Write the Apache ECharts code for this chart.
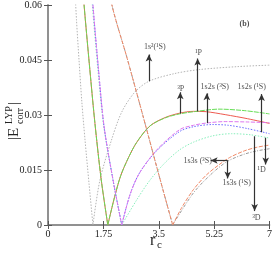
<!DOCTYPE html>
<html><head><meta charset="utf-8">
<script src="https://cdn.jsdelivr.net/npm/echarts@6/dist/echarts.min.js"></script>
<style>html,body{margin:0;padding:0;background:#fff}#c{width:275px;height:253px}</style>
</head><body><div id="c"></div>
<script>
// ---- data (r_c, |E_corr^LYP|) ----
const xTicks = [0, 1.75, 3.5, 5.25, 7];
const yTicks = [0, 0.015, 0.03, 0.045, 0.06];
const s1s2 = [[0.84,0.066],[0.9,0.056],[0.98,0.045],[1.07,0.0335],[1.17,0.0232],[1.3,0.011],[1.42,0],[1.64,0.0122],[2.0,0.023],[2.33,0.0308],[2.74,0.0362],[3.19,0.0392],[4.0,0.0413],[4.8,0.0424],[6.0,0.0432],[7.0,0.0436]];
const s3P = [[1.1,0.065],[1.14,0.06],[1.3,0.0445],[1.48,0.028],[1.68,0.0125],[1.89,0],[2.1,0.0075],[2.3,0.0135],[2.55,0.0185],[2.8,0.0225],[3.22,0.027],[3.7,0.0292],[4.16,0.0303],[4.7,0.031],[5.4,0.0316],[6.2,0.0312],[7,0.0303]];
const s1P = [[1.1,0.065],[1.14,0.06],[1.3,0.0445],[1.48,0.028],[1.68,0.0125],[1.89,0],[2.1,0.0075],[2.3,0.0135],[2.55,0.0185],[2.8,0.0225],[3.22,0.027],[3.7,0.0293],[4.16,0.0305],[4.6,0.031],[5.0,0.0309],[5.6,0.0301],[6.3,0.029],[7,0.0277]];
const s1s2s3S = [[1.38,0.066],[1.42,0.06],[1.6,0.042],[1.77,0.027],[2.05,0.0125],[2.33,0],[2.6,0.0085],[2.9,0.0143],[3.44,0.0205],[4.16,0.026],[4.6,0.0272],[5.0,0.0278],[5.6,0.0282],[6.3,0.0281],[7,0.0279]];
const s1s2s1S = [[1.38,0.066],[1.42,0.06],[1.6,0.042],[1.77,0.027],[2.05,0.0125],[2.33,0],[2.6,0.0085],[2.9,0.0143],[3.44,0.0203],[4.16,0.0255],[4.6,0.0268],[5.2,0.0274],[5.7,0.0272],[6.3,0.0263],[7,0.0249]];
const sCyan = [[1.36,0.066],[1.4,0.06],[1.58,0.042],[1.76,0.027],[2.05,0.0125],[2.33,0],[2.8,0.0068],[3.22,0.0122],[3.7,0.017],[4.16,0.0205],[4.6,0.0226],[5.2,0.0243],[5.8,0.0249],[6.4,0.0246],[7,0.0237]];
const s3D = [[1.98,0.065],[2.02,0.06],[2.5,0.0455],[3.0,0.0298],[3.5,0.0138],[3.94,0],[4.23,0.0048],[4.6,0.0097],[5.0,0.0136],[5.4,0.0164],[5.74,0.0184],[6.2,0.0202],[6.6,0.0212],[7,0.0218]];
const s1D = [[1.98,0.065],[2.02,0.06],[2.5,0.0455],[3.0,0.0298],[3.5,0.0138],[3.94,0],[4.6,0.0088],[5.2,0.0142],[5.68,0.0174],[6.2,0.0193],[6.6,0.0202],[7,0.0208]];
// annotations: label texts, label anchor, arrow start/end
const annTexts = ['1s²(¹S)','¹P','³P','1s2s (³S)','1s2s (¹S)','1s3s (³S)','1s3s (¹S)','³D','¹D'];
const annLabelPos = [[3.375,0.0486],[4.76,0.047],[4.2,0.037],[5.27,0.0376],[6.44,0.0376],[4.73,0.0176],[5.96,0.0114],[6.59,0.0019],[6.75,0.0151]];
const arrowFrom = [[3.19,0.0392],[4.18,0.0304],[4.73,0.031],[5.02,0.0278],[6.75,0.0253],[5.68,0.0176],[5.68,0.0176],[6.53,0.0242],[6.88,0.0238]];
const arrowTo = [[3.19,0.0465],[4.18,0.0362],[4.73,0.0454],[5.02,0.0359],[6.75,0.0357],[5.14,0.0176],[5.68,0.0127],[6.53,0.0038],[6.88,0.0165]];
const panelTag = [6.21,0.0549];

const serif = 'Liberation Serif';
const chart = echarts.init(document.getElementById('c'), null, {renderer:'canvas'});
// each |E| curve is drawn as two smooth branches meeting at its zero (the cusp)
function curve(data, color, type, width){
  let k = 0;
  data.forEach((p,i)=>{ if (p[1] < data[k][1]) k = i; });
  const mk = d => ({type:'line', data:d, symbol:'none', smooth:0.3, clip:true, silent:true,
    lineStyle:{color, type, width:width||1}, z:2});
  return [mk(data.slice(0,k+1)), mk(data.slice(k))];
}
const axisCommon = {
  axisLine:{show:true, lineStyle:{color:'#8a8a8a', width:1.5}},
  axisTick:{show:true, inside:true, length:4, lineStyle:{color:'#555'}},
  splitLine:{show:false}
};
chart.setOption({
  animation:false,
  backgroundColor:'#fff',
  grid:{left:48, right:3, top:3, bottom:28, containLabel:false},
  xAxis:[
    Object.assign({type:'value', min:0, max:7, interval:1.75, position:'bottom',
      axisLabel:{fontFamily:serif, fontSize:10, color:'#222', margin:4}}, axisCommon),
    Object.assign({type:'value', min:0, max:7, interval:1.75, position:'top',
      axisLabel:{show:false}}, axisCommon)
  ],
  yAxis:[
    Object.assign({type:'value', min:0, max:0.06, interval:0.015, position:'left',
      axisLabel:{fontFamily:serif, fontSize:10, color:'#222', margin:6}}, axisCommon),
    Object.assign({type:'value', min:0, max:0.06, interval:0.015, position:'right',
      axisLabel:{show:false}}, axisCommon)
  ],
  series:[].concat(
    curve(s1s2, '#b4b4b4', [1.5,1.5]),
    curve(s1P, '#ee5a50', 'solid'),
    curve(s3P, '#66dd55', [5,1]),
    curve(sCyan, '#88eebb', [1.5,1.5]),
    curve(s1s2s1S, '#6a6aff', [1.5,1.5]),
    curve(s1s2s3S, '#dd77ee', [4,1.5]),
    curve(s1D, '#9a9a9a', [3,1.5,1,1.5]),
    curve(s3D, '#f08a68', [4,1.5]),
    [{type:'line', data:[], symbol:'none', silent:true,
      markLine:{silent:true, symbol:['none','arrow'], symbolSize:[5,7],
        lineStyle:{color:'#333', width:1.2, type:'solid'}, label:{show:false},
        data: arrowFrom.map((f,i)=>[{coord:f},{coord:arrowTo[i]}])}},
    {type:'scatter', symbolSize:0, silent:true, z:5,
      data: annLabelPos.map((p,i)=>({value:p, name:annTexts[i]})),
      label:{show:true, position:'inside', formatter:p=>p.name, fontFamily:serif, fontSize:8, color:'#222'}},
    {type:'scatter', symbolSize:0, silent:true, z:5, data:[panelTag],
      label:{show:true, position:'inside', formatter:'(b)', fontFamily:serif, fontSize:8, fontWeight:'bold', color:'#222'}}]
  ),
  graphic:[
    {type:'group', x:14, y:140, rotation:Math.PI/2, children:[
      {type:'text', x:0, y:0, style:{text:'|E', font:'15px "Liberation Serif"', fill:'#222', textVerticalAlign:'middle'}},
      {type:'text', x:16, y:-5, style:{text:'LYP', font:'10px "Liberation Serif"', fill:'#222', textVerticalAlign:'middle'}},
      {type:'text', x:16, y:6, style:{text:'corr', font:'10px "Liberation Serif"', fill:'#222', textVerticalAlign:'middle'}},
      {type:'text', x:35, y:0, style:{text:'|', font:'15px "Liberation Serif"', fill:'#222', textVerticalAlign:'middle'}}
    ]},
    {type:'text', left:150, top:233, style:{text:'r', font:'16px "Liberation Serif"', fill:'#222'}},
    {type:'text', left:157, top:240, style:{text:'c', font:'11px "Liberation Serif"', fill:'#222'}}
  ]
});
</script></body></html>
